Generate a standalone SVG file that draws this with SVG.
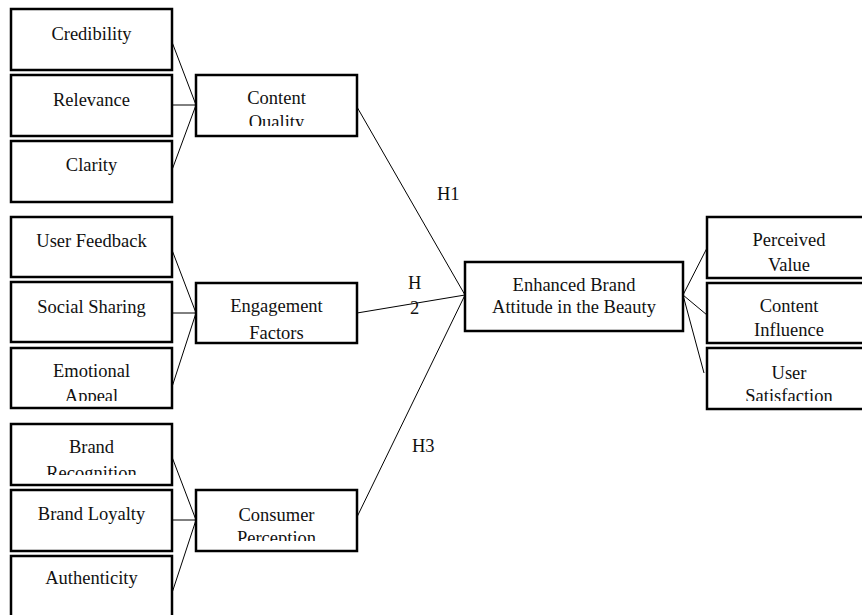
<svg xmlns="http://www.w3.org/2000/svg" width="862" height="615" viewBox="0 0 862 615">
<style>
.box{fill:#fff;stroke:#000;stroke-width:2.5}
.t{font-family:"Liberation Serif","Times New Roman",serif;font-size:18.5px;fill:#111;text-anchor:middle}
.h{font-family:"Liberation Serif","Times New Roman",serif;font-size:18.5px;fill:#111}
.c{stroke:#000;stroke-width:1;fill:none}
</style>
<defs>
<clipPath id="cq"><rect x="196" y="75" width="161" height="51"/></clipPath>
<clipPath id="ef"><rect x="196" y="283" width="161" height="57"/></clipPath>
<clipPath id="ea"><rect x="11" y="348" width="161" height="53"/></clipPath>
<clipPath id="br"><rect x="11" y="424" width="161" height="51"/></clipPath>
<clipPath id="cp"><rect x="196" y="490" width="161" height="51"/></clipPath>
<clipPath id="us"><rect x="707" y="348" width="164" height="53"/></clipPath>
</defs>
<rect width="862" height="615" fill="#fff"/>
<g id="connectors">
<line class="c" x1="172" y1="42" x2="196" y2="105"/>
<line class="c" x1="172" y1="105" x2="196" y2="105"/>
<line class="c" x1="172" y1="170" x2="196" y2="105"/>
<line class="c" x1="172" y1="250" x2="196" y2="313"/>
<line class="c" x1="172" y1="313" x2="196" y2="313"/>
<line class="c" x1="172" y1="387" x2="196" y2="313"/>
<line class="c" x1="172" y1="457" x2="196" y2="520"/>
<line class="c" x1="172" y1="520" x2="196" y2="520"/>
<line class="c" x1="172" y1="593" x2="196" y2="520"/>
<line class="c" x1="357" y1="107" x2="465" y2="295"/>
<line class="c" x1="357" y1="313" x2="465" y2="295"/>
<line class="c" x1="357" y1="517" x2="465" y2="295"/>
<line class="c" x1="683" y1="295" x2="707" y2="248"/>
<line class="c" x1="683" y1="295" x2="707" y2="315"/>
<line class="c" x1="683" y1="295" x2="704" y2="373"/>
<text class="h" x="437" y="200">H1</text>
<text class="h" x="408" y="289">H</text>
<text class="h" x="410" y="314">2</text>
<text class="h" x="412" y="452">H3</text>
</g>
<g id="credibility"><rect class="box" x="11" y="9" width="161" height="61"/><text class="t" x="91.5" y="39.5">Credibility</text></g>
<g id="relevance"><rect class="box" x="11" y="75" width="161" height="61"/><text class="t" x="91.5" y="106">Relevance</text></g>
<g id="clarity"><rect class="box" x="11" y="141" width="161" height="61"/><text class="t" x="91.5" y="170.5">Clarity</text></g>
<g id="user-feedback"><rect class="box" x="11" y="217" width="161" height="60"/><text class="t" x="91.5" y="246.5">User Feedback</text></g>
<g id="social-sharing"><rect class="box" x="11" y="282" width="161" height="60"/><text class="t" x="91.5" y="313">Social Sharing</text></g>
<g id="emotional-appeal"><rect class="box" x="11" y="348" width="161" height="60"/><g clip-path="url(#ea)"><text class="t" x="91.5" y="377">Emotional</text><text class="t" x="91.5" y="402">Appeal</text></g></g>
<g id="brand-recognition"><rect class="box" x="11" y="424" width="161" height="61"/><g clip-path="url(#br)"><text class="t" x="91.5" y="453">Brand</text><text class="t" x="91.5" y="479">Recognition</text></g></g>
<g id="brand-loyalty"><rect class="box" x="11" y="490" width="161" height="61"/><text class="t" x="91.5" y="520">Brand Loyalty</text></g>
<g id="authenticity"><rect class="box" x="11" y="556" width="161" height="70"/><text class="t" x="91.5" y="584">Authenticity</text></g>
<g id="content-quality"><rect class="box" x="196" y="75" width="161" height="61"/><g clip-path="url(#cq)"><text class="t" x="276.5" y="104">Content</text><text class="t" x="276.5" y="128">Quality</text></g></g>
<g id="engagement-factors"><rect class="box" x="196" y="283" width="161" height="60"/><g clip-path="url(#ef)"><text class="t" x="276.5" y="312">Engagement</text><text class="t" x="276.5" y="339">Factors</text></g></g>
<g id="consumer-perception"><rect class="box" x="196" y="490" width="161" height="61"/><g clip-path="url(#cp)"><text class="t" x="276.5" y="520.5">Consumer</text><text class="t" x="276.5" y="544">Perception</text></g></g>
<g id="enhanced-brand-attitude"><rect class="box" x="465" y="262" width="218" height="69"/><text class="t" x="574" y="290.5">Enhanced Brand</text><text class="t" x="574" y="312.5">Attitude in the Beauty</text></g>
<g id="perceived-value"><rect class="box" x="707" y="217" width="164" height="61"/><text class="t" x="789" y="245.5">Perceived</text><text class="t" x="789" y="270.5">Value</text></g>
<g id="content-influence"><rect class="box" x="707" y="283" width="164" height="60"/><text class="t" x="789" y="312">Content</text><text class="t" x="789" y="335.5">Influence</text></g>
<g id="user-satisfaction"><rect class="box" x="707" y="348" width="164" height="61"/><g clip-path="url(#us)"><text class="t" x="789" y="379">User</text><text class="t" x="789" y="401.5">Satisfaction</text></g></g>
</svg>
